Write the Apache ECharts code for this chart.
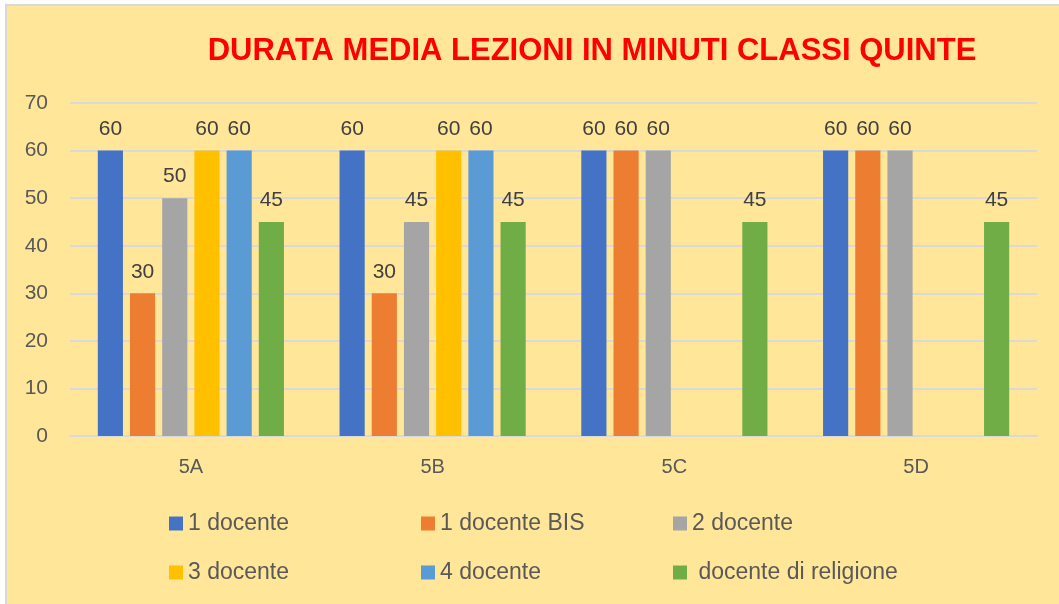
<!DOCTYPE html>
<html>
<head>
<meta charset="utf-8">
<script src="https://cdn.jsdelivr.net/npm/echarts@6/dist/echarts.min.js"></script>
<style>
  html, body { margin: 0; padding: 0; background: #ffffff; }
  #frame {
    position: absolute; left: 5px; top: 4px; width: 1056px; height: 602px;
    background: #FFE699; border-left: 2px solid #d9d9d9; border-top: 2px solid #d9d9d9;
  }
  #chart { position: absolute; left: 0; top: 0; width: 1059px; height: 604px; }
</style>
</head>
<body>
<div id="frame"></div>
<div id="chart"></div>
<script>
const classi = ['5A', '5B', '5C', '5D']
const docente1 = [60, 60, 60, 60]
const docente1Bis = [30, 30, 60, 60]
const docente2 = [50, 45, 60, 60]
const docente3 = [60, 60, null, null]
const docente4 = [60, 60, null, null]
const religione = [45, 45, 45, 45]
const yTicks = { min: 0, max: 70, interval: 10 }

const font = 'Liberation Sans'
const colori = ['#4472C4', '#ED7D31', '#A5A5A5', '#FFC000', '#5B9BD5', '#70AD47']
const nomi = ['1 docente', '1 docente BIS', '2 docente', '3 docente', '4 docente', ' docente di religione']
const valori = [docente1, docente1Bis, docente2, docente3, docente4, religione]

const chart = echarts.init(document.getElementById('chart'))

const series = nomi.map((nome, i) => ({
  name: nome,
  type: 'bar',
  data: valori[i],
  barGap: '28%',
  barCategoryGap: '23%',
  itemStyle: { color: colori[i] },
  label: {
    show: true,
    position: 'top',
    distance: 11,
    fontFamily: font,
    fontSize: 21,
    color: '#404040'
  }
}))

chart.setOption({
  backgroundColor: 'transparent',
  color: colori,
  title: {
    text: 'DURATA MEDIA LEZIONI IN MINUTI CLASSI QUINTE',
    left: 587,
    textAlign: 'center',
    top: 31,
    textStyle: {
      fontFamily: font,
      fontWeight: 'bold',
      fontSize: 31,
      color: '#FF0000'
    }
  },
  legend: {
    data: nomi,
    left: 164,
    top: 504,
    width: 770,
    itemWidth: 14,
    itemHeight: 14,
    itemGap: 20,
    icon: 'rect',
    textStyle: {
      fontFamily: font,
      fontSize: 23,
      color: '#595959',
      width: 213,
      lineHeight: 29
    }
  },
  grid: {
    left: 70,
    right: 22,
    top: 103,
    bottom: 168
  },
  xAxis: {
    type: 'category',
    data: classi,
    axisLine: { lineStyle: { color: '#D9D9D9', width: 2 } },
    axisTick: { show: false },
    axisLabel: {
      fontFamily: font,
      fontSize: 20,
      color: '#595959',
      margin: 21
    }
  },
  yAxis: {
    type: 'value',
    min: yTicks.min,
    max: yTicks.max,
    interval: yTicks.interval,
    axisLine: { show: false },
    axisTick: { show: false },
    splitLine: { lineStyle: { color: '#D9D9D9', width: 2 } },
    axisLabel: {
      fontFamily: font,
      fontSize: 21,
      color: '#595959',
      margin: 22
    }
  },
  series: series
})
</script>
</body>
</html>
